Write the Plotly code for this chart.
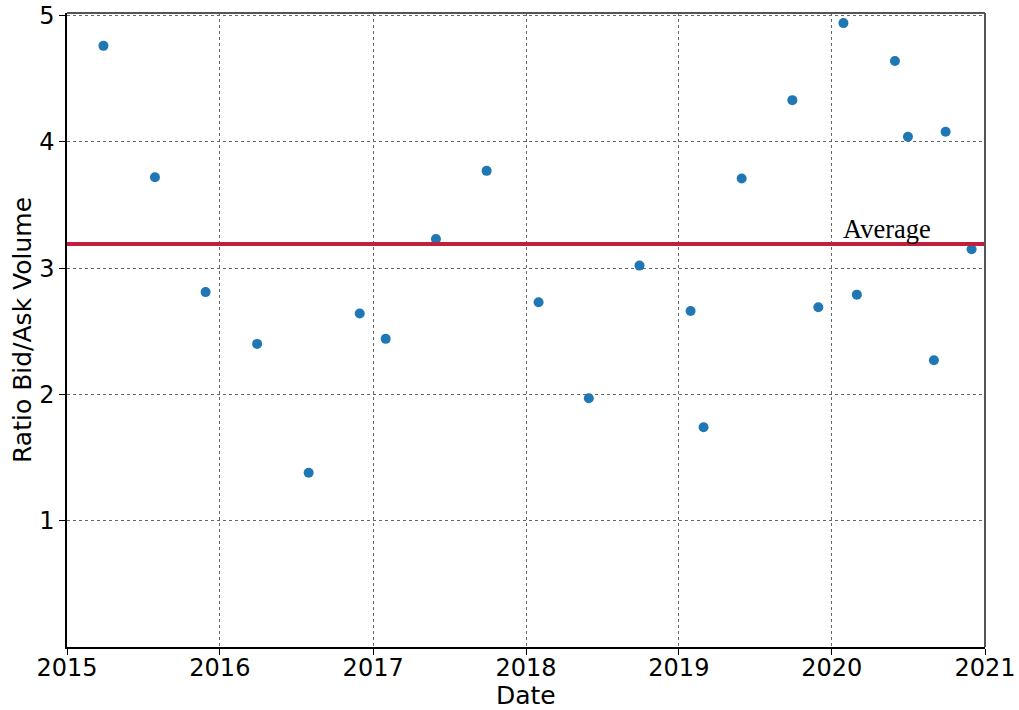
import plotly.graph_objects as go

dates = ["2015-03-29", "2015-07-30", "2015-11-28", "2016-03-30", "2016-07-31",
         "2016-11-30", "2017-01-31", "2017-05-31", "2017-09-29", "2018-01-31",
         "2018-05-31", "2018-09-29", "2019-01-29", "2019-03-01", "2019-05-31",
         "2019-09-29", "2019-11-30", "2020-01-29", "2020-03-01", "2020-05-31",
         "2020-07-01", "2020-09-01", "2020-09-29", "2020-11-30"]
ratios = [4.76, 3.72, 2.81, 2.40, 1.38, 2.64, 2.44, 3.23, 3.77, 2.73,
          1.97, 3.02, 2.66, 1.74, 3.71, 4.33, 2.69, 4.94, 2.79, 4.64,
          4.04, 2.27, 4.08, 3.15]
average_value = 3.19
y_ticks = [1, 2, 3, 4, 5]
x_ticks = ["2015-01-01", "2016-01-01", "2017-01-01", "2018-01-01",
           "2019-01-01", "2020-01-01", "2021-01-01"]
x_labels = ["2015", "2016", "2017", "2018", "2019", "2020", "2021"]

fig = go.Figure()
fig.add_trace(go.Scatter(
    x=dates, y=ratios, mode="markers",
    marker=dict(color="#1f77b4", size=10, line=dict(width=0)),
    showlegend=False,
))

fig.add_shape(type="line", xref="paper", x0=0, x1=1, yref="y",
              y0=average_value, y1=average_value,
              line=dict(color="#c0203e", width=4), layer="above")
fig.add_annotation(x="2020-01-22", y=average_value, xref="x", yref="y",
                   text="Average", showarrow=False, xanchor="left",
                   yanchor="bottom", yshift=-2,
                   font=dict(family="Liberation Serif", size=26.5, color="black"))

# axis titles
fig.add_annotation(x=0.5, y=0, xref="paper", yref="paper", text="Date",
                   showarrow=False, xanchor="center", yanchor="middle",
                   yshift=-48, font=dict(size=25, color="black"))
fig.add_annotation(x=0, y=0.5, xref="paper", yref="paper",
                   text="Ratio Bid/Ask Volume", textangle=-90,
                   showarrow=False, xanchor="center", yanchor="middle",
                   xshift=-45, font=dict(size=25, color="black"))

# top and right spines (gray)
fig.add_shape(type="line", xref="paper", yref="paper", x0=0, x1=1, y0=1, y1=1,
              line=dict(color="#555555", width=2))
fig.add_shape(type="line", xref="paper", yref="paper", x0=1, x1=1, y0=0, y1=1,
              line=dict(color="#555555", width=2))

fig.update_layout(
    width=1019, height=710,
    margin=dict(l=67, r=34, t=13, b=63),
    plot_bgcolor="white", paper_bgcolor="white",
    font=dict(family="DejaVu Sans", size=24, color="black"),
)
fig.update_xaxes(
    range=["2015-01-01", "2021-01-01"],
    tickvals=x_ticks, ticktext=x_labels,
    tickfont=dict(size=24),
    showgrid=True, gridcolor="#666666", griddash="dot", gridwidth=1,
    showline=True, linecolor="black", linewidth=1.5,
    ticks="outside", ticklen=6, tickcolor="black",
    ticklabelstandoff=-8,
    zeroline=False, automargin=False,
)
fig.update_yaxes(
    range=[0, 5.02],
    tickvals=y_ticks,
    tickfont=dict(size=24),
    showgrid=True, gridcolor="#666666", griddash="dot", gridwidth=1,
    showline=True, linecolor="black", linewidth=1.5,
    ticks="outside", ticklen=6, tickcolor="black",
    zeroline=False, automargin=False,
)

fig.write_html("out.html", config={"displayModeBar": False},
               post_script="document.body.style.margin='0';")
